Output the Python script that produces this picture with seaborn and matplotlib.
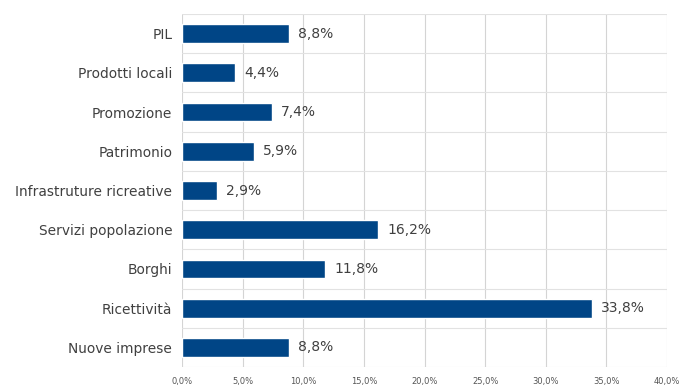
import matplotlib
matplotlib.use("Agg")
import matplotlib.pyplot as plt
import seaborn as sns
import pandas as pd
import numpy as np
from matplotlib.ticker import FixedLocator

categories = ["PIL", "Prodotti locali", "Promozione", "Patrimonio",
              "Infrastruture ricreative", "Servizi popolazione", "Borghi",
              "Ricettività", "Nuove imprese"]
values = [8.8, 4.4, 7.4, 5.9, 2.9, 16.2, 11.8, 33.8, 8.8]
xticks = [0, 5, 10, 15, 20, 25, 30, 35, 40]

df = pd.DataFrame({"cat": categories, "val": values})

sns.set_theme(style="white")
plt.rcParams['font.family'] = ['DejaVu Sans']

fig = plt.figure(figsize=(6.85, 3.89), dpi=100)
ax = fig.add_axes([182/685, 1-367/389, (667-182)/685, (367-14)/389])

sns.barplot(data=df, x="val", y="cat", orient="h", color="#004586",
            width=0.48, saturation=1, ax=ax, zorder=3)

ax.set_xlim(0, 40)
ax.set_ylim(len(categories)-0.5, -0.5)
ax.set_xticks(xticks)
ax.set_xticklabels([f"{t:.1f}%".replace(".", ",") for t in xticks],
                   fontsize=6, color="#555555")
ax.tick_params(axis="y", labelsize=9.9, labelcolor="#404040", length=0, pad=7)
ax.tick_params(axis="x", length=0, pad=7)
ax.yaxis.set_minor_locator(FixedLocator(np.arange(-0.5, len(categories), 1)))
ax.grid(axis="x", which="major", color="#d4d4d4", linewidth=0.8, zorder=0)
ax.grid(axis="y", which="minor", color="#e2e2e2", linewidth=0.8, zorder=0)
ax.tick_params(axis="y", which="minor", length=3, color="#cccccc")
ax.set_xlabel("")
ax.set_ylabel("")
for s in ax.spines.values():
    s.set_visible(False)

for i, v in enumerate(values):
    ax.text(v + 0.75, i, f"{v:.1f}%".replace(".", ","), va="center", ha="left",
            fontsize=10, color="#404040")

fig.savefig("out.png", dpi=100)
